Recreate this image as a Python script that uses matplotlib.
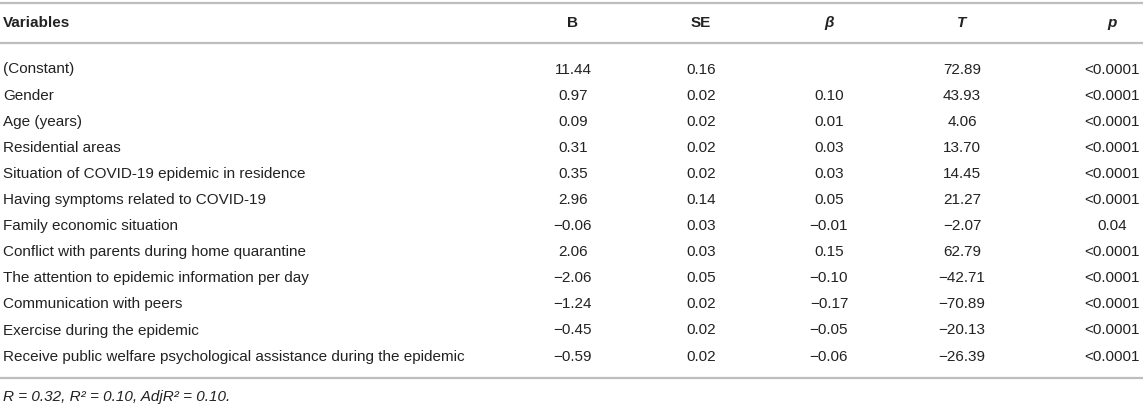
import matplotlib
matplotlib.use("Agg")
import matplotlib.pyplot as plt

variables = [
    "(Constant)",
    "Gender",
    "Age (years)",
    "Residential areas",
    "Situation of COVID-19 epidemic in residence",
    "Having symptoms related to COVID-19",
    "Family economic situation",
    "Conflict with parents during home quarantine",
    "The attention to epidemic information per day",
    "Communication with peers",
    "Exercise during the epidemic",
    "Receive public welfare psychological assistance during the epidemic",
]
B = ["11.44", "0.97", "0.09", "0.31", "0.35", "2.96", "\u22120.06", "2.06", "\u22122.06", "\u22121.24", "\u22120.45", "\u22120.59"]
SE = ["0.16", "0.02", "0.02", "0.02", "0.02", "0.14", "0.03", "0.03", "0.05", "0.02", "0.02", "0.02"]
beta = ["", "0.10", "0.01", "0.03", "0.03", "0.05", "\u22120.01", "0.15", "\u22120.10", "\u22120.17", "\u22120.05", "\u22120.06"]
T = ["72.89", "43.93", "4.06", "13.70", "14.45", "21.27", "\u22122.07", "62.79", "\u221242.71", "\u221270.89", "\u221220.13", "\u221226.39"]
p = ["<0.0001"] * 6 + ["0.04"] + ["<0.0001"] * 5
headers = ["Variables", "B", "SE", "\u03b2", "T", "p"]
footnote = "R = 0.32, R\u00b2 = 0.10, AdjR\u00b2 = 0.10."

W, H = 1143, 408
fig = plt.figure(figsize=(W / 100, H / 100), dpi=100)
ax = fig.add_axes([0, 0, 1, 1])
ax.set_xlim(0, W)
ax.set_ylim(H, 0)
ax.axis("off")

font = "Liberation Sans"
fs = 11
txt = "#222222"
line_c = "#bdbdbd"

col_x = [573, 701, 829, 962, 1112]
left_x = 3
header_y = 23
row0 = 69.5
step = 26.1

# rules
for y in [2.5, 43, 377.5]:
    ax.plot([0, W], [y, y], color=line_c, lw=1.6, solid_capstyle="butt")

# header
ax.text(left_x, header_y, headers[0], ha="left", va="center", fontsize=fs,
        fontweight="bold", family=font, color=txt)
styles = ["normal", "normal", "italic", "italic", "italic"]
for x, h, st in zip(col_x, headers[1:], styles):
    ax.text(x, header_y, h, ha="center", va="center", fontsize=fs,
            fontweight="bold", fontstyle=st, family=font, color=txt)

# rows
for i, name in enumerate(variables):
    y = row0 + i * step
    ax.text(left_x, y, name, ha="left", va="center", fontsize=fs, family=font, color=txt)
    for x, col in zip(col_x, [B, SE, beta, T, p]):
        ax.text(x, y, col[i], ha="center", va="center", fontsize=fs, family=font, color=txt)

ax.text(left_x, 397, footnote, ha="left", va="center", fontsize=fs,
        fontstyle="italic", family=font, color=txt)

fig.savefig("out.png", dpi=100)
